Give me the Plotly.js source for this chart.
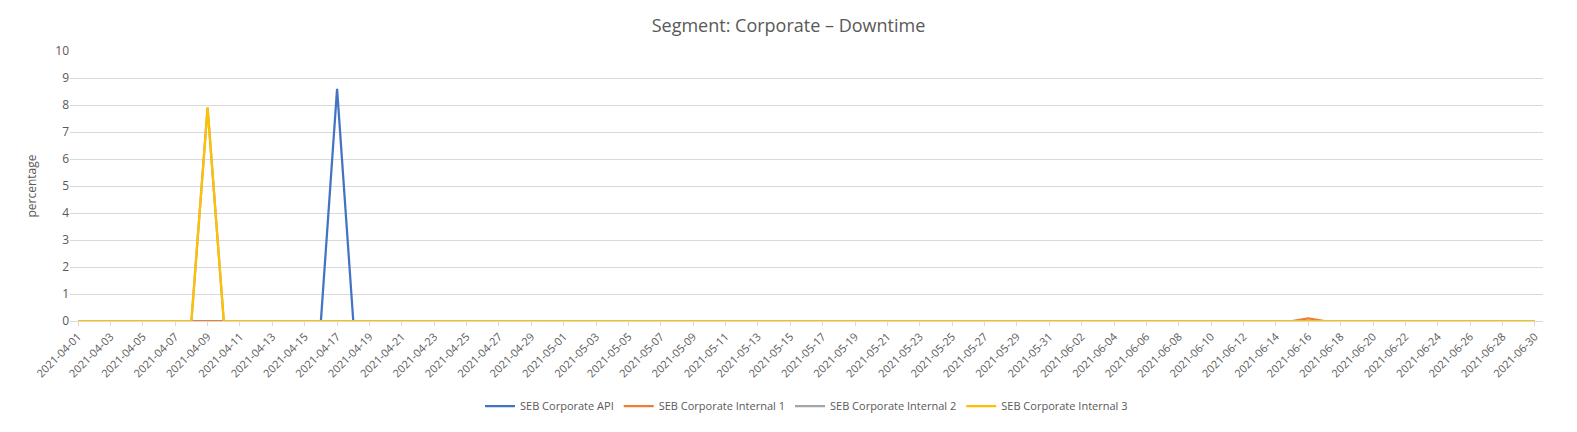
<!DOCTYPE html>
<html><head><meta charset="utf-8">
<script src="https://cdn.plot.ly/plotly-3.0.1.min.js"></script>
<style>html,body{margin:0;padding:0;background:#fff}</style>
</head><body><div id="chart" style="width:1577px;height:432px"></div>
<script>
// daily dates 2021-04-01 .. 2021-06-30
const dates = [];
for (let d = new Date(Date.UTC(2021, 3, 1)); d <= new Date(Date.UTC(2021, 5, 30)); d.setUTCDate(d.getUTCDate() + 1)) {
  dates.push(d.toISOString().slice(0, 10));
}
const zeros = () => new Array(dates.length).fill(0);

const apiValues = zeros(); apiValues[16] = 8.6;
const internal1Values = zeros(); internal1Values[76] = 0.1;
const internal2Values = zeros(); internal2Values[8] = 7.9;
const internal3Values = zeros(); internal3Values[8] = 7.9;

const seriesNames = ["SEB Corporate API", "SEB Corporate Internal 1", "SEB Corporate Internal 2", "SEB Corporate Internal 3"];
const seriesColors = ["#4472C4", "#ED7D31", "#A5A5A5", "#FFC000"];
const seriesValues = [apiValues, internal1Values, internal2Values, internal3Values];
const tickDates = dates.filter((_, i) => i % 2 === 0);

const data = seriesValues.map((vals, i) => ({
  x: dates, y: vals, type: "scatter", mode: "lines", name: seriesNames[i],
  line: { color: seriesColors[i], width: 2.25 },
}));

const layout = {
  width: 1577, height: 432,
  margin: { l: 70, r: 34, t: 51, b: 107 },
  font: { family: "Open Sans, Liberation Sans, Arial", color: "#595959", size: 12 },
  title: { text: "Segment: Corporate – Downtime", x: 0.5, y: 0.955, font: { size: 18, color: "#595959" } },
  showlegend: true,
  legend: { orientation: "h", x: 0.5, xanchor: "center", y: -0.315, yanchor: "middle", font: { size: 11 } },
  xaxis: {
    type: "category", tickvals: tickDates, ticktext: tickDates, tickangle: -45, automargin: false,
    showgrid: false, showline: true, linecolor: "#d9d9d9", ticks: "outside", tickcolor: "#d9d9d9", ticklen: 4,
    range: [-0.5, dates.length - 0.5], tickfont: { size: 11 },
  },
  yaxis: {
    title: { text: "percentage", font: { size: 12 } }, range: [0, 10], dtick: 1, automargin: false,
    gridcolor: "#d9d9d9", zeroline: false, tickfont: { size: 12 },
  },
  plot_bgcolor: "#fff", paper_bgcolor: "#fff",
};
Plotly.newPlot("chart", data, layout, { displayModeBar: false });
</script></body></html>
